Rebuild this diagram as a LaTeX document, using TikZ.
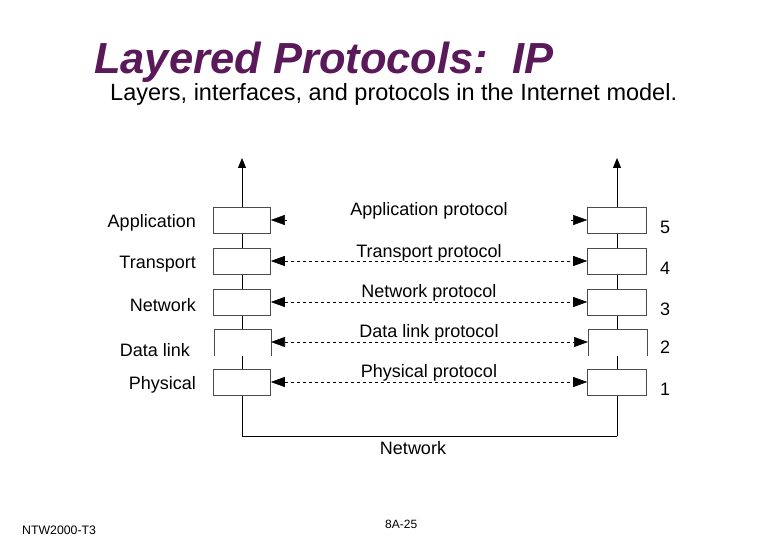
\documentclass[tikz,border=0pt]{standalone}
\usepackage{fontspec}
\setmainfont{Liberation Sans}
\usetikzlibrary{arrows.meta}
\definecolor{ttl}{HTML}{5A1A5A}
\begin{document}
\begin{tikzpicture}[x=1pt,y=-1pt,
  lay/.style={draw=black!70,line width=0.6pt,fill=white,minimum width=57pt,minimum height=26pt,inner sep=0pt},
  lbl/.style={font=\fontsize{18}{20}\selectfont,inner sep=0pt},
  prot/.style={dashed,line width=0.6pt,{Triangle[length=14pt,width=10pt]}-{Triangle[length=14pt,width=10pt]}}]
\useasboundingbox (0,0) rectangle (780,540);
\node[anchor=base west,inner sep=0pt,text=ttl,font=\fontsize{43.5}{48}\selectfont\bfseries\itshape] (title) at (94,74) {Layered Protocols:\ \ IP};
\node[anchor=base west,inner sep=0pt,font=\fontsize{23.5}{26}\selectfont] (sub) at (110,101) {Layers, interfaces, and protocols in the Internet model.};
\coordinate (lt) at (242,158);
\coordinate (rt) at (617,158);
\coordinate (lb) at (242,436);
\coordinate (rb) at (617,436);
\draw[line width=1pt,-{Triangle[length=10pt,width=8pt]}] (lb) -- (lt);
\draw[line width=1pt,-{Triangle[length=10pt,width=8pt]}] (rb) -- (rt);
\draw[line width=1pt] (lb) -- (rb);
\foreach \n/\y/\name/\num in {5/220/Application/5,4/261/Transport/4,3/302/Network/3,1/382/Physical/1}{
  \node[lay] (L\n) at (242,\y) {};
  \node[lay,minimum width=59pt] (R\n) at (617,\y) {};
  \node[lbl,anchor=east] (N\n) at (196,\y+3) {\name};
  \node[lbl,anchor=west] (K\n) at (660,\y+7) {\num};
}
% data link box without bottom
\fill[white] (214,329) rectangle (271,356);
\fill[white] (588,329) rectangle (647,356);
\draw[black!70,line width=0.6pt] (214,356) -- (214,329) -- (271,329) -- (271,356);
\draw[black!70,line width=0.6pt] (588,356) -- (588,329) -- (647,329) -- (647,356);
\coordinate (L2) at (271,342); \coordinate (R2) at (588,342);
\node[lbl,anchor=east] (N2) at (190,350) {Data link};
\node[lbl,anchor=west] (K2) at (660,347) {2};
% protocols
\draw[-{Triangle[length=14pt,width=10pt]}] ([xshift=16pt]L5.east) -- (L5.east);
\draw[-{Triangle[length=14pt,width=10pt]}] ([xshift=-16pt]R5.west) -- (R5.west);
\node[lbl] (P5) at (429,211) {Application protocol};
\draw[prot] (L4.east) -- (R4.west);
\node[lbl] (P4) at (429,253) {Transport protocol};
\draw[prot] (L3.east) -- (R3.west);
\node[lbl] (P3) at (429,293) {Network protocol};
\draw[prot] (L2) -- (R2);
\node[lbl] (P2) at (429,333) {Data link protocol};
\draw[prot] (L1.east) -- (R1.west);
\node[lbl] (P1) at (429,373) {Physical protocol};
\node[lbl] (NW) at (413,448) {Network};
\node[anchor=base west,inner sep=0pt,font=\fontsize{12.3}{14}\selectfont] (f1) at (22,534) {NTW2000-T3};
\node[anchor=base west,inner sep=0pt,font=\fontsize{12}{14}\selectfont] (f2) at (385,528) {8A-25};
\end{tikzpicture}
\end{document}
